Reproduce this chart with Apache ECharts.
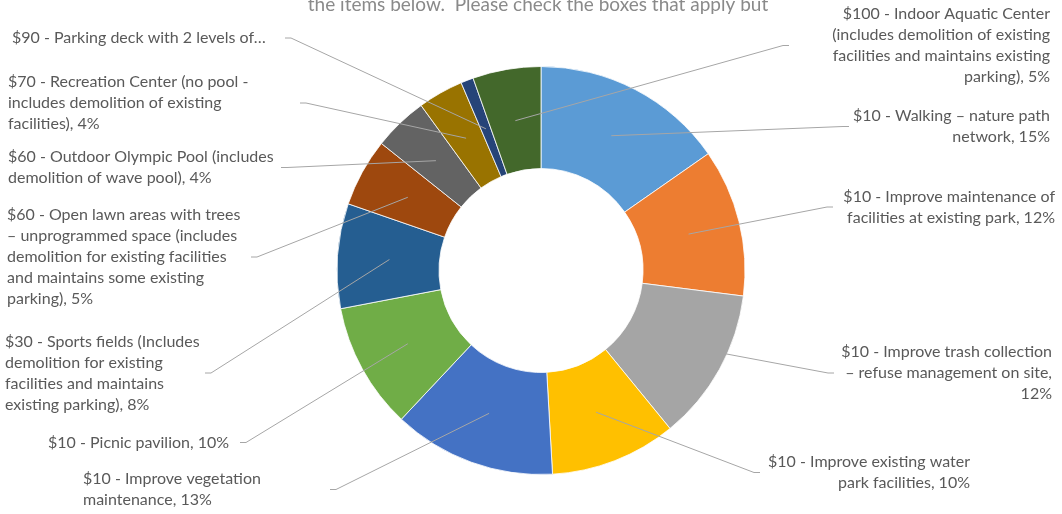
<!DOCTYPE html>
<html>
<head>
<meta charset="utf-8">
<script src="https://cdn.jsdelivr.net/npm/echarts@6/dist/echarts.min.js"></script>
<style>
html,body{margin:0;padding:0;background:#fff;}
#chart{width:1062px;height:514px;}
</style>
</head>
<body>
<div id="chart"></div>
<script>
// categories (line breaks follow the original label wrapping)
var items = [
  "$10 - Walking \u2013 nature path\nnetwork",
  "$10 - Improve maintenance of\nfacilities at existing park",
  "$10 - Improve trash collection\n\u2013 refuse management on site,\n",
  "$10 - Improve existing water\npark facilities",
  "$10 - Improve vegetation\nmaintenance",
  "$10 - Picnic pavilion",
  "$30 - Sports fields (Includes\ndemolition for existing\nfacilities and maintains\nexisting parking)",
  "$60 - Open lawn areas with trees\n\u2013 unprogrammed space (includes\ndemolition for existing facilities\nand maintains some existing\nparking)",
  "$60 - Outdoor Olympic Pool (includes\ndemolition of wave pool)",
  "$70 - Recreation Center (no pool -\nincludes demolition of existing\nfacilities)",
  "$90 - Parking deck with 2 levels of\u2026",
  "$100 - Indoor Aquatic Center\n(includes demolition of existing\nfacilities and maintains existing\nparking)"
];
// share of responses, %
var shares = [15.3, 11.7, 12.1, 10.0, 12.9, 10.0, 8.3, 5.4, 4.3, 3.6, 1.0, 5.4];

var colors = ["#5B9BD5","#ED7D31","#A5A5A5","#FFC000","#4472C4","#70AD47",
              "#255E91","#9E480E","#636363","#997300","#264478","#43682B"];

// label placement: [x, top, align, leader end x]
var spots = [
  [1050, 105.5, "right", 849],
  [1055, 186, "right", 833],
  [1052, 341.5, "right", 834],
  [970, 451.5, "right", 760],
  [83, 468.5, "left", 330],
  [48, 432, "left", 240],
  [5, 331, "left", 205],
  [7, 204.5, "left", 251],
  [8, 146.5, "left", 281],
  [8, 71.5, "left", 300],
  [12, 27.5, "left", 285],
  [1050, 3.5, "right", 789]
];

var cx = 541, cy = 270.5, rMid = 152;
var ringData = items.map(function (n, i) {
  return { name: n, value: shares[i], itemStyle: { color: colors[i] } };
});
var labelData = items.map(function (n, i) {
  return { name: n, value: shares[i] };
});

// leader lines start mid-ring, at the middle angle of each slice
function midPoint(idx) {
  var before = 0, total = 0;
  shares.forEach(function (v, i) { total += v; if (i < idx) before += v; });
  var a = (before + shares[idx] / 2) / total * Math.PI * 2;
  return [cx + rMid * Math.sin(a), cy - rMid * Math.cos(a)];
}

var myChart = echarts.init(document.getElementById("chart"));
var option = {
  animation: false,
  graphic: [{
    type: "text",
    x: 538,
    y: -5,
    style: {
      text: "the items below.  Please check the boxes that apply but",
      font: "19px Lato",
      fill: "#8a8a8a",
      align: "center"
    }
  }],
  series: [
    {
      type: "pie",
      z: 1,
      center: [cx, cy],
      radius: [102, 204],
      startAngle: 90,
      clockwise: true,
      silent: true,
      label: { show: false },
      labelLine: { show: false },
      itemStyle: { borderColor: "#fff", borderWidth: 0.8 },
      data: ringData
    },
    {
      type: "pie",
      z: 5,
      center: [cx, cy],
      radius: [0, rMid],
      startAngle: 90,
      clockwise: true,
      silent: true,
      avoidLabelOverlap: false,
      itemStyle: { color: "rgba(0,0,0,0)", borderWidth: 0 },
      label: {
        show: true,
        position: "outside",
        fontFamily: "Lato",
        fontSize: 16,
        lineHeight: 21,
        color: "#595959",
        formatter: function (p) {
          var name = p.name.replace(/\n$/, "");
          if (name.slice(-1) === "\u2026") return name;
          if (/\n$/.test(p.name)) return name + "\n" + Math.round(p.percent) + "%";
          return name + ", " + Math.round(p.percent) + "%";
        }
      },
      labelLine: {
        show: true,
        length: 10,
        length2: 10,
        lineStyle: { color: "#a6a6a6", width: 1 }
      },
      labelLayout: function (p) {
        var s = spots[p.dataIndex];
        var ey = s[1] + p.labelRect.height / 2;
        var dir = s[2] === "left" ? 1 : -1;
        return {
          x: s[0],
          y: s[1],
          align: s[2],
          verticalAlign: "top",
          labelLinePoints: [midPoint(p.dataIndex), [s[3] + dir * 6, ey], [s[3], ey]]
        };
      },
      data: labelData
    }
  ]
};
if (option && typeof option === "object") {
  myChart.setOption(option);
}
</script>
</body>
</html>
